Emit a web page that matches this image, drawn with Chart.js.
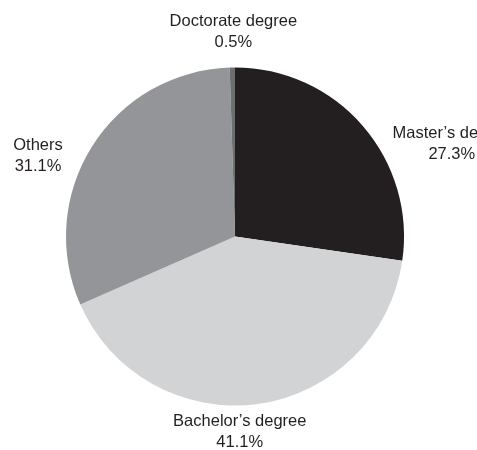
<!DOCTYPE html>
<html lang="en">
<head>
    <meta charset="UTF-8">
    <title>Degree distribution</title>
    <style>
        body {
            margin: 0;
            background-color: white;
        }
        canvas {
            display: block;
        }
    </style>
</head>
<body>
    <canvas id="degreeChart" width="477" height="450"></canvas>

    <script src="https://cdn.jsdelivr.net/npm/chart.js"></script>
    <script>
        // Share of respondents by highest degree (clockwise from 12 o'clock)
        const categories = ["Master\u2019s degree", "Bachelor\u2019s degree", "Others", "Doctorate degree"];
        const shares = [27.3, 41.1, 31.1, 0.5];
        const sliceColors = ["#231f20", "#d1d3d4", "#939598", "#6d6e71"];

        // where each label block sits, relative to the arc edge at the slice's middle
        const labelOffsets = [[89, 18], [-18, 27.5], [-54, 10], [1, -35.5]];

        // Draw "name / value%" next to each slice
        const sliceLabels = {
            id: "sliceLabels",
            afterDraw(chart) {
                const ctx = chart.ctx;
                const arcs = chart.getDatasetMeta(0).data;
                ctx.save();
                ctx.font = "16.5px 'Liberation Sans', Arial, sans-serif";
                ctx.fillStyle = "#231f20";
                ctx.textAlign = "center";
                ctx.textBaseline = "middle";
                arcs.forEach(function (arc, i) {
                    const mid = (arc.startAngle + arc.endAngle) / 2;
                    const ex = arc.x + arc.outerRadius * Math.cos(mid);
                    const ey = arc.y + arc.outerRadius * Math.sin(mid);
                    const x = ex + labelOffsets[i][0];
                    const y = ey + labelOffsets[i][1];
                    ctx.fillText(categories[i], x, y - 10.5);
                    ctx.fillText(shares[i].toFixed(1) + "%", x, y + 10.5);
                });
                ctx.restore();
            }
        };

        const ctx = document.getElementById("degreeChart").getContext("2d");
        new Chart(ctx, {
            type: "pie",
            data: {
                labels: categories,
                datasets: [{
                    data: shares,
                    backgroundColor: sliceColors,
                    borderWidth: 0
                }]
            },
            options: {
                responsive: false,
                animation: false,
                layout: {
                    padding: { left: 66, right: 73, top: 67.5, bottom: 44.5 }
                },
                plugins: {
                    legend: { display: false },
                    tooltip: { enabled: false }
                }
            },
            plugins: [sliceLabels]
        });
    </script>
</body>
</html>
